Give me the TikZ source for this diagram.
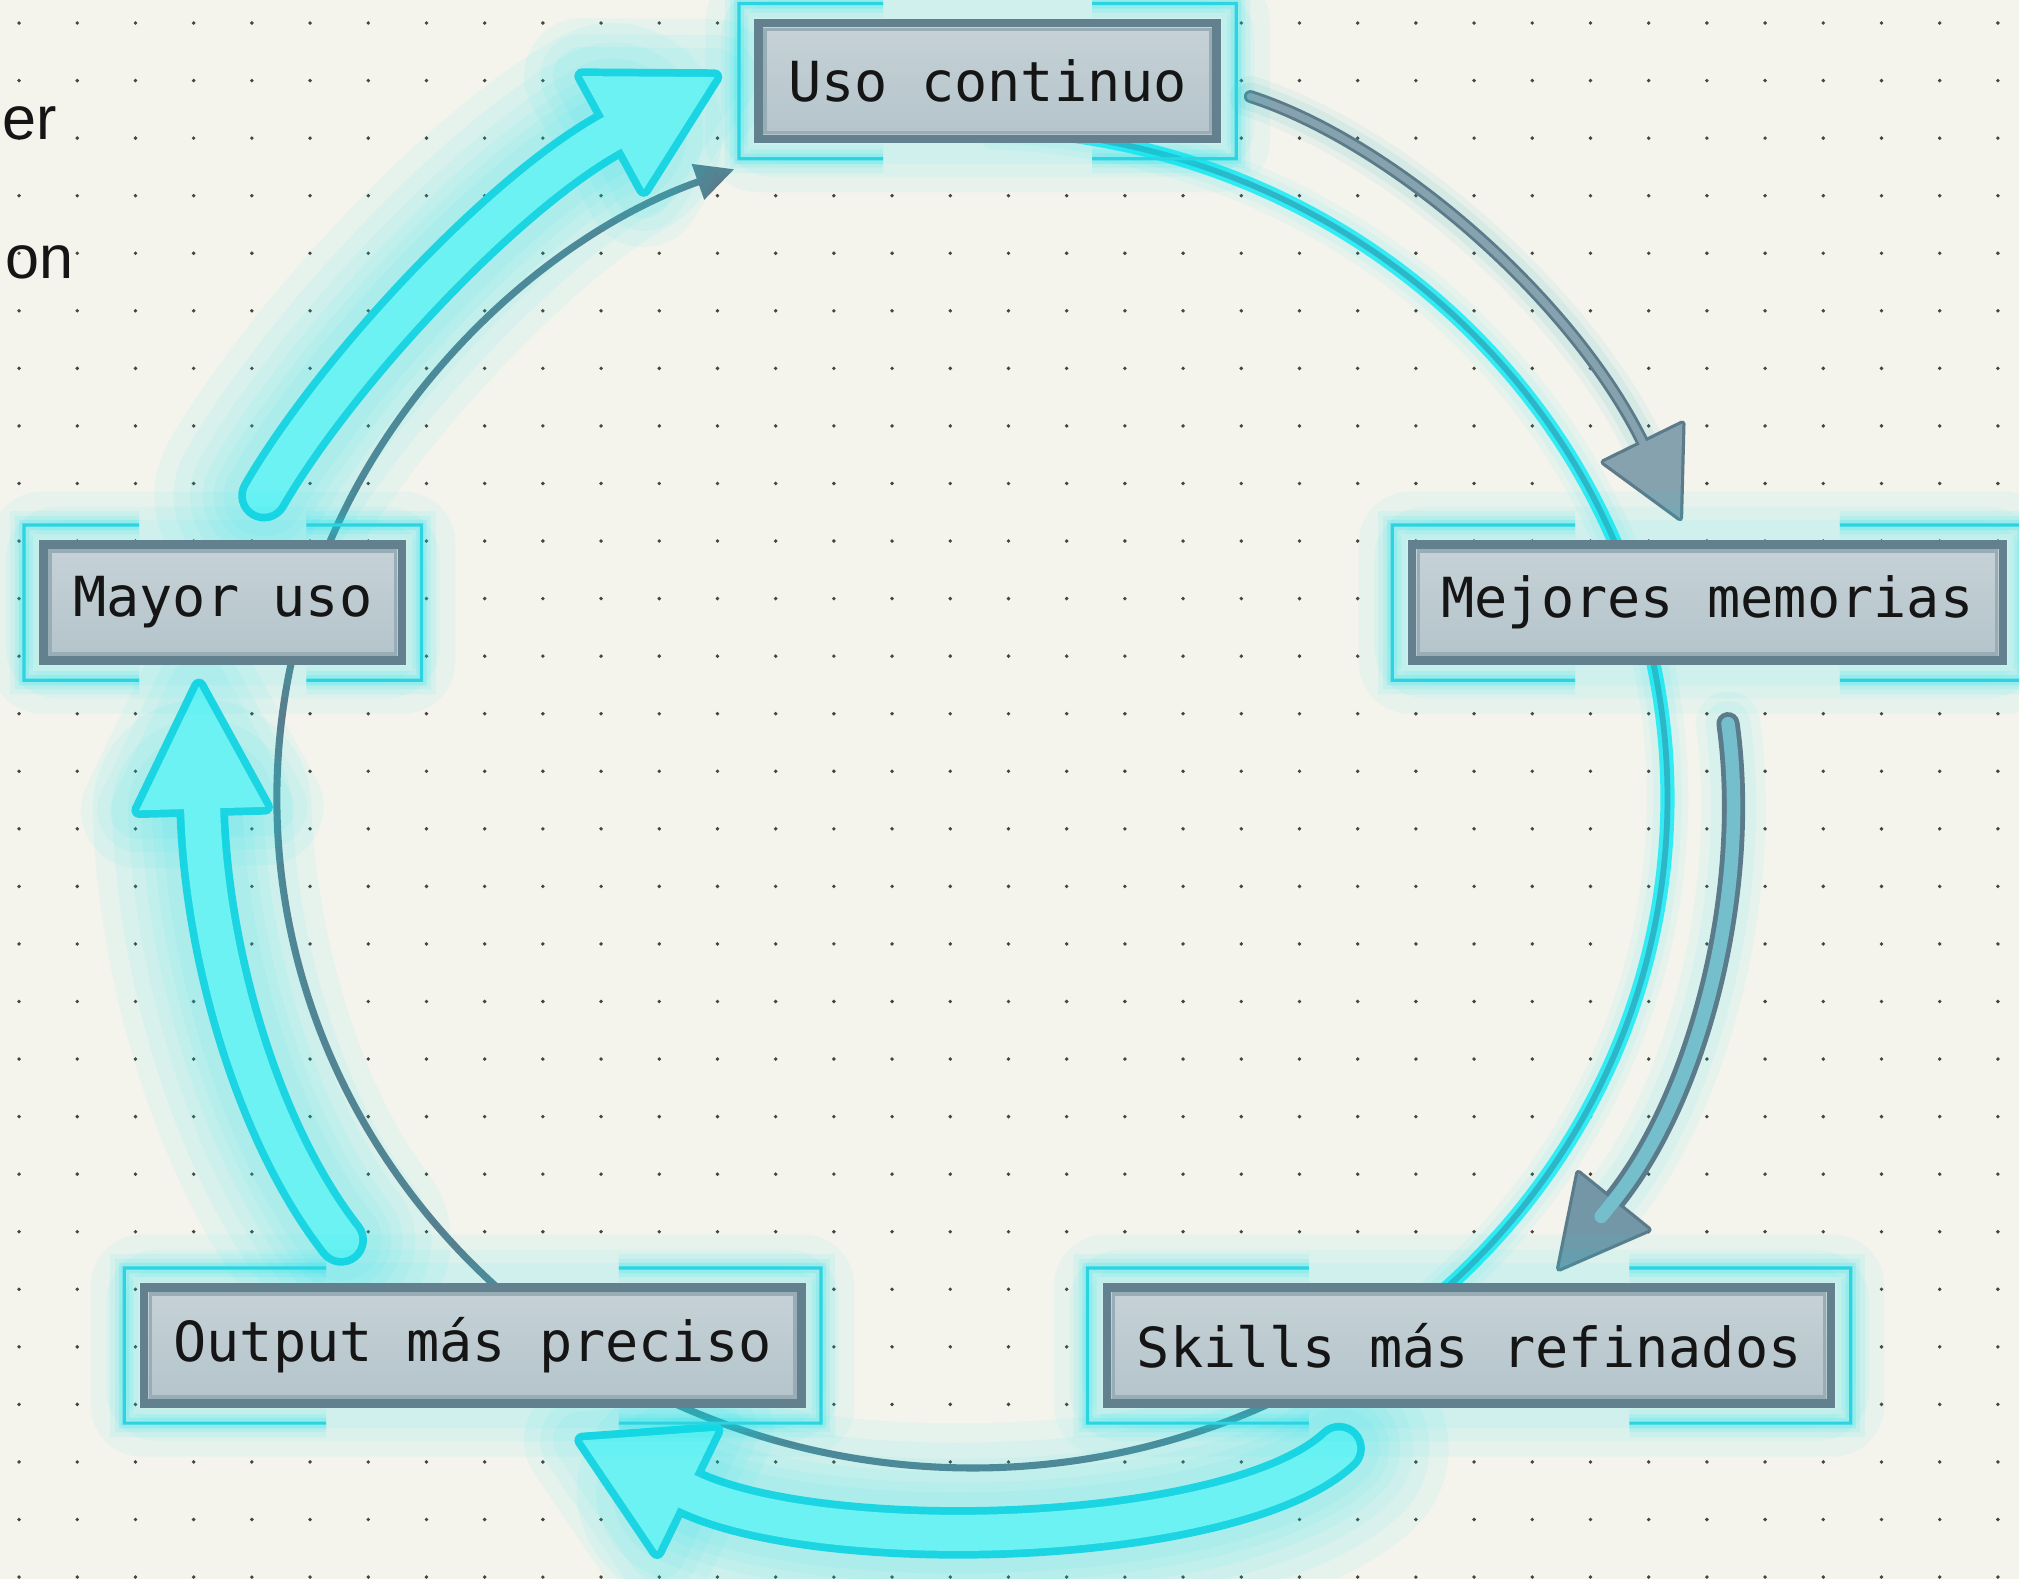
\documentclass[tikz,border=0pt]{standalone}
\usepackage{fontspec}
\usetikzlibrary{calc,arrows.meta,positioning}
\newfontfamily\boxfont{DejaVu Sans Mono}
\newfontfamily\sidefont{Liberation Sans}

\pgfdeclarelayer{back}
\pgfdeclarelayer{mid}
\pgfsetlayers{back,mid,main}

\definecolor{paper}{HTML}{F4F3EC}
\definecolor{dotc}{HTML}{45453F}
\definecolor{boxtop}{HTML}{C6D2D7}
\definecolor{boxbot}{HTML}{B4C4CB}
\definecolor{boxedge}{HTML}{62808D}
\definecolor{ink}{HTML}{151515}
\definecolor{cyedge}{HTML}{1BD5E3}
\definecolor{cyfill}{HTML}{6CF2F3}
\definecolor{cyglow}{HTML}{00E6F0}
\definecolor{slate}{HTML}{5C7B8A}
\definecolor{slatefill}{HTML}{87A2AF}
\definecolor{headgray}{HTML}{7397A7}
\definecolor{gbinner}{HTML}{74BFCB}
\definecolor{arcline}{HTML}{2DB6C8}
\definecolor{frameline}{HTML}{2CD3E1}

\tikzset{
  loopbox/.style={draw=boxedge, line width=0.65mm, top color=boxtop, bottom color=boxbot,
    text=ink, font=\boxfont\fontsize{12.2}{14}\selectfont, minimum height=9mm,
    inner xsep=2.3mm, inner ysep=0pt,
    path picture={\draw[boxedge!45!boxtop, line width=0.25mm]
      ($(path picture bounding box.south west)+(5,5)$) rectangle
      ($(path picture bounding box.north east)+(-5,-5)$);}},
  sidetext/.style={font=\sidefont\fontsize{13.5}{16}\selectfont, text=ink, inner sep=0pt},
  bracket/.style={draw=frameline, line width=0.25mm,
    preaction={draw=cyglow, line width=2.2mm, draw opacity=.07},
    preaction={draw=cyglow, line width=1.4mm, draw opacity=.1},
    preaction={draw=cyglow, line width=0.8mm, draw opacity=.15}},
  halo/.style={fill=cyglow, fill opacity=.05, rounded corners=4mm},
  glowline/.style={draw=cyglow, line width=#1, draw opacity=.055, line cap=round, line join=round},
  % hollow cyan arrows
  cy out/.style={draw=cyedge, line width=4mm, line cap=round,
    preaction={glowline=17mm}, preaction={glowline=14mm},
    preaction={glowline=11.5mm}, preaction={glowline=9.5mm},
    preaction={glowline=7.8mm}, preaction={glowline=6.3mm}},
  cy head/.style={draw=cyedge, fill=cyedge, line width=1.2mm, line join=round,
    preaction={glowline=9mm}, preaction={glowline=6.5mm},
    preaction={glowline=4.5mm}},
  cy fill/.style={fill=cyfill},
  cy in/.style={draw=cyfill, line width=2.8mm, line cap=round},
  % thin slate arrow
  ga out/.style={draw=slate, line width=1mm, line cap=round,
    preaction={draw=slate!50!cyan, line width=3.2mm, draw opacity=.07, line cap=round},
    preaction={draw=slate!50!cyan, line width=2.2mm, draw opacity=.09, line cap=round}},
  ga head/.style={draw=slate, fill=slate, line width=0.5mm, line join=round},
  ga fill/.style={fill=slatefill},
  ga in/.style={draw=slatefill, line width=0.55mm, line cap=round},
  % wide slate arrow
  gb out/.style={draw=slate, line width=1.8mm, line cap=round,
    preaction={glowline=5mm}, preaction={glowline=3.5mm}},
  gb head/.style={draw=slate, fill=slate, line width=0.5mm, line join=round},
  gb fill/.style={fill=headgray},
  gb in/.style={draw=gbinner, line width=1.05mm, line cap=round},
  ringgray/.style={draw=slate, line width=0.55mm, -{Triangle[length=3mm, width=2.8mm]}},
  ringcyan/.style={draw=arcline, line width=0.45mm,
    preaction={glowline=3.2mm}, preaction={glowline=2.2mm},
    preaction={draw=cyglow!80!white, line width=1.1mm}}
}

% #1 kind, #2 tail, #3 c1, #4 c2, #5 base, #6 head length, #7 half width
\newcommand{\fatarrow}[7]{%
  \coordinate (hp) at ($(#5)!-#6!(#4)$);
  \coordinate (hl) at ($(#5)!#7!90:(#4)$);
  \coordinate (hr) at ($(#5)!#7!-90:(#4)$);
  \coordinate (hx) at ($(#5)!-1.5mm!(#4)$);
  \draw[#1 out] (#2) .. controls (#3) and (#4) .. (#5);
  \draw[#1 head] (hp) -- (hl) -- (hr) -- cycle;
  \fill[#1 fill] (hp) -- (hl) -- (hr) -- cycle;
  \draw[#1 in] (#2) .. controls (#3) and (#4) .. (#5) -- (hx);
}

% corner brackets round a box
\newcommand{\camframe}[1]{%
  \coordinate (fa) at ($(#1.north west)+(-12,12)$);
  \coordinate (fb) at ($(#1.north east)+(12,12)$);
  \coordinate (fc) at ($(#1.south east)+(12,-12)$);
  \coordinate (fd) at ($(#1.south west)+(-12,-12)$);
  \fill[halo] ($(fd)+(-26,-26)$) rectangle ($(fb)+(26,26)$);
  \fill[halo] ($(fd)+(-14,-14)$) rectangle ($(fb)+(14,14)$);
  \fill[halo] ($(fd)+(-4,-4)$) rectangle ($(fb)+(4,4)$);
  \draw[bracket] ($(fa)!0.29!(fb)$) -- (fa) -- (fd) -- ($(fd)!0.29!(fc)$);
  \draw[bracket] ($(fb)!0.29!(fa)$) -- (fb) -- (fc) -- ($(fc)!0.29!(fd)$);
}

\begin{document}
\begin{tikzpicture}[x=0.1mm, y=0.1mm]
  \useasboundingbox (0,0) rectangle (1568,1226);

  \node[loopbox] (uso) at (767,1163) {Uso continuo};
  \node[loopbox] (mem) at (1326,758) {Mejores memorias};
  \node[loopbox] (mayor) at (173,758) {Mayor uso};
  \node[loopbox] (out) at (367,181) {Output más preciso};
  \node[loopbox] (skills) at (1141,181) {Skills más refinados};

  \node[sidetext, anchor=base east] (lefttop) at (45,1118) {er};
  \node[sidetext, anchor=base east] (leftbot) at (58,1010) {on};

  \begin{pgfonlayer}{back}
    \fill[paper] (0,0) rectangle (1568,1226);
    \foreach \i in {0,...,34} {
      \foreach \j in {0,...,27} {
        \fill[dotc] ({14.8+45.2*\i},{1208.1-44.7*\j}) circle (1.5);
      }
    }
  \end{pgfonlayer}

  \begin{pgfonlayer}{mid}
    % ring: x radius 540, y radius 520
    \coordinate (ring) at (755,606);
    \draw[ringcyan] ($(ring)+(88:540 and 520)$)
      arc[start angle=88, end angle=-62, x radius=540, y radius=520];
    \draw[ringgray] ($(ring)+(-60:540 and 520)$)
      arc[start angle=-60, end angle=-250, x radius=540, y radius=520];

    \coordinate (ea) at (205,841);  \coordinate (eb) at (260,936);
    \coordinate (ec) at (390,1076); \coordinate (ed) at (476,1123);
    \fatarrow{cy}{ea}{eb}{ec}{ed}{9mm}{5mm}

    \coordinate (da) at (265,263);  \coordinate (db) at (200,346);
    \coordinate (dc) at (160,486);  \coordinate (dd) at (157,598);
    \fatarrow{cy}{da}{db}{dc}{dd}{9.5mm}{4.9mm}

    \coordinate (ca) at (1040,101); \coordinate (cb) at (960,26);
    \coordinate (cc) at (640,16);   \coordinate (cd) at (533,68);
    \fatarrow{cy}{ca}{cb}{cc}{cd}{9mm}{5.2mm}

    \coordinate (aa) at (971,1151); \coordinate (ab) at (1080,1116);
    \coordinate (ac) at (1220,996); \coordinate (ad) at (1276,882);
    \fatarrow{ga}{aa}{ab}{ac}{ad}{6.5mm}{3.4mm}

    \coordinate (ba) at (1342,664); \coordinate (bb) at (1360,536);
    \coordinate (bc) at (1320,376); \coordinate (bd) at (1253,293);
    \fatarrow{gb}{ba}{bb}{bc}{bd}{6.7mm}{3.5mm}

    \camframe{uso}
    \camframe{mem}
    \camframe{mayor}
    \camframe{out}
    \camframe{skills}
  \end{pgfonlayer}
\end{tikzpicture}
\end{document}
